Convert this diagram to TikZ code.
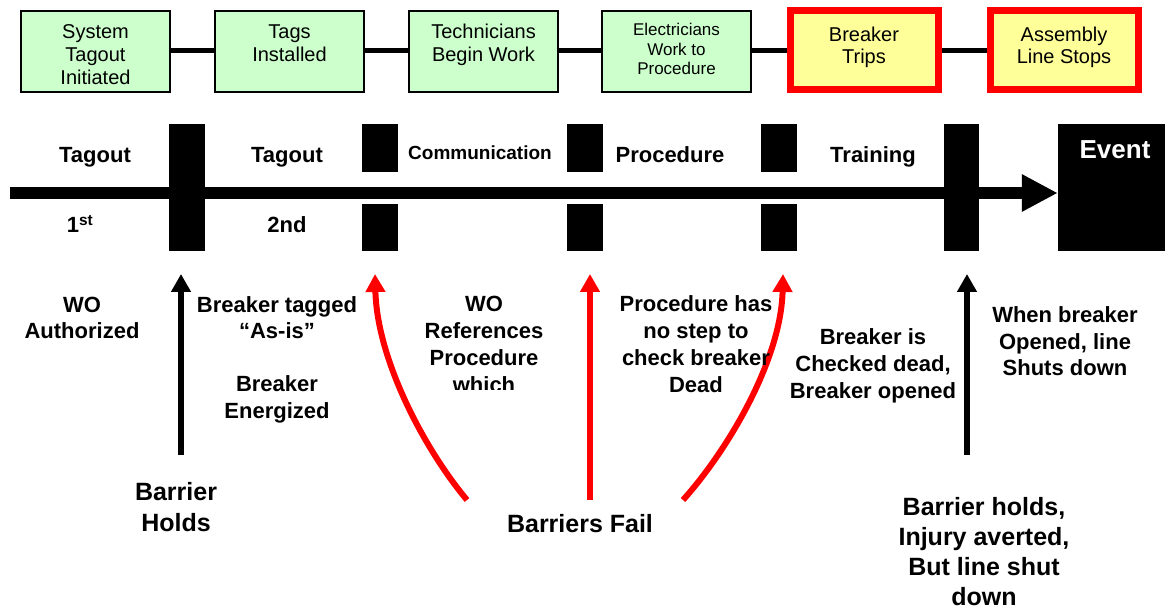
\documentclass[tikz,border=0pt]{standalone}
\usepackage{fontspec}
\setmainfont{Liberation Sans}
\usetikzlibrary{arrows.meta,backgrounds}
\definecolor{boxgreen}{HTML}{CCFFCC}
\definecolor{boxyellow}{HTML}{FFFF99}
\definecolor{failred}{HTML}{FF0000}
\tikzset{
  greenbox/.style={draw=black,line width=1.3pt,fill=boxgreen,inner sep=0pt,minimum width=149pt,minimum height=81pt,align=center,font=\fontsize{20}{23}\selectfont,text height=51pt,text depth=30pt},
  redbox/.style={draw=failred,line width=7pt,fill=boxyellow,inner sep=0pt,minimum width=148pt,minimum height=79pt,align=center,font=\fontsize{20}{22}\selectfont,text height=53pt,text depth=26pt},
  lbl/.style={align=center,inner sep=0pt,anchor=base,font=\bfseries\fontsize{22}{26.7}\selectfont},
  biglbl/.style={lbl,font=\bfseries\fontsize{25}{30.5}\selectfont},
  gate/.style={fill=black},
  holds/.style={line width=6pt,-{Triangle[length=18pt,width=19pt]}},
  fails/.style={holds,draw=failred}
}
\begin{document}
\begin{tikzpicture}[x=1pt,y=-1pt]
\useasboundingbox (0,0) rectangle (1165,612);
% chuoi su kien
\node[greenbox,text height=74pt,text depth=7pt] (b1) at (95.5,51.5) {System\\Tagout\\Initiated};
\node[greenbox] (b2) at (289.5,51.5) {Tags\\Installed};
\node[greenbox] (b3) at (483.5,51.5) {Technicians\\Begin Work};
\node[greenbox,font=\fontsize{17}{19.5}\selectfont,text height=64pt,text depth=17pt] (b4) at (676.5,51.5) {Electricians\\Work to\\Procedure};
\node[redbox] (b5) at (864,50.5) {Breaker\\Trips};
\node[redbox] (b6) at (1064,50.5) {Assembly\\Line Stops};
\begin{scope}[on background layer]
\foreach \a/\b in {b1/b2,b2/b3,b3/b4,b4/b5,b5/b6}
  \draw[line width=5pt] (\a.east |- 0,51) -- (\b.west |- 0,51);
\end{scope}
% truc thoi gian
\coordinate (t0) at (10,193);
\node[fill=black,inner sep=0pt,minimum width=107pt,minimum height=127pt] (event) at (1111.5,187.5) {};
\node[text=white,inner sep=0pt,anchor=base,font=\bfseries\fontsize{26}{30}\selectfont] (evt) at (1115,159) {Event};
\draw[line width=12pt,-{Triangle[length=36pt,width=35pt]}] (t0) -- (t0 -| event.west);
\fill[gate] (169,124) rectangle (205,251);
\foreach \x in {362,567,761}{
  \fill[gate] (\x,124) rectangle ++(36,48);
  \fill[gate] (\x,204) rectangle ++(36,47);
}
\fill[gate] (944,124) rectangle (979,251);
\node[lbl] (l1) at (95,163) {Tagout};
\node[lbl] (l2) at (287,163) {Tagout};
\node[lbl,font=\bfseries\fontsize{19}{23}\selectfont] (l3) at (480,160) {Communication};
\node[lbl] (l4) at (670,163) {Procedure};
\node[lbl] (l5) at (873,163) {Training};
\node[lbl] (n1) at (80,233) {1\textsuperscript{st}};
\node[lbl] (n2) at (287,233) {2nd};
% mui ten rao chan
\coordinate (h1) at (181,455); \coordinate (h1t) at (181,274);
\coordinate (h2) at (967,455); \coordinate (h2t) at (967,274);
\coordinate (f1) at (467,500); \coordinate (f1t) at (375,274);
\coordinate (f2) at (590,500); \coordinate (f2t) at (590,274);
\coordinate (f3) at (683,500); \coordinate (f3t) at (783,274);
\draw[holds] (h1) -- (h1t);
\draw[holds] (h2) -- (h2t);
\draw[fails] (f1) .. controls (425,450) and (377,360) .. (f1t);
\draw[fails] (f2) -- (f2t);
\draw[fails] (f3) .. controls (728,450) and (781,360) .. (f3t);
% chu thich
\node[lbl] (w1) at (82,339) {WO\\Authorized};
\node[lbl] (w2) at (277,339) {Breaker tagged\\“As-is”};
\node[lbl] (w3) at (277,418) {Breaker\\Energized};
\begin{scope}
\clip (400,280) rectangle (570,389);
\node[lbl] (w4) at (484,392) {WO\\References\\Procedure\\which};
\end{scope}
\node[lbl] (w5) at (696,392) {Procedure has\\no step to\\check breaker\\Dead};
\node[lbl] (w6) at (873,398) {Breaker is\\Checked dead,\\Breaker opened};
\node[lbl] (w7) at (1065,376) {When breaker\\Opened, line\\Shuts down};
\node[biglbl] (r1) at (176,531) {Barrier\\Holds};
\node[biglbl] (r2) at (580,532) {Barriers Fail};
\node[biglbl,font=\bfseries\fontsize{25}{30}\selectfont] (r3) at (984,605) {Barrier holds,\\Injury averted,\\But line shut\\down};
\end{tikzpicture}
\end{document}
